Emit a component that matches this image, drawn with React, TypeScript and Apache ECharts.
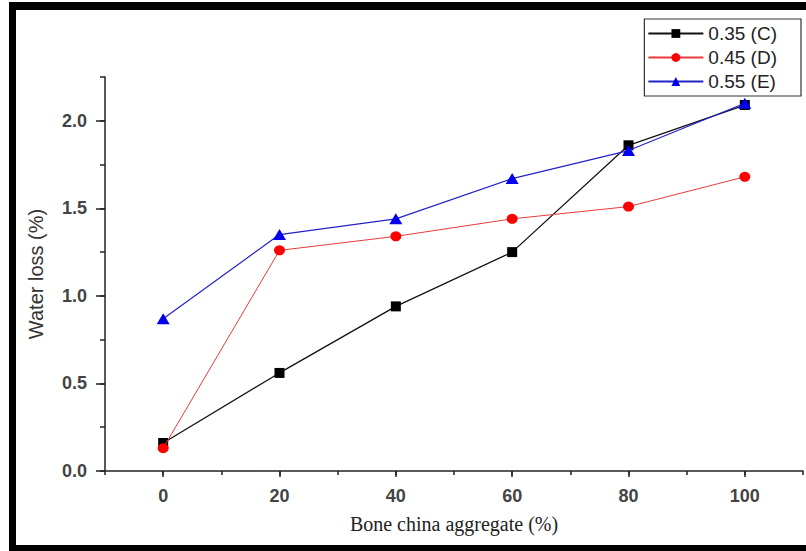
import React, { useEffect, useRef } from "react";
import * as echarts from "echarts";

// Bone china aggregate replacement level (%)
const aggregate = [0, 20, 40, 60, 80, 100];
// Water loss (%) for each w/c ratio
const lossC = [0.16, 0.56, 0.94, 1.25, 1.86, 2.09];
const lossD = [0.13, 1.26, 1.34, 1.44, 1.51, 1.68];
const lossE = [0.87, 1.35, 1.44, 1.67, 1.83, 2.1];
const seriesNames = ["0.35 (C)", "0.45 (D)", "0.55 (E)"];
const xMajorTicks = [0, 20, 40, 60, 80, 100];
const yMajorTicks = [0, 0.5, 1.0, 1.5, 2.0];

const pairs = (ys: number[]) => aggregate.map((x, i) => [x, ys[i]]);

export default function App() {
  const ref = useRef<HTMLDivElement>(null);

  useEffect(() => {
    if (!ref.current) return;
    const chart = echarts.init(ref.current, null, { renderer: "svg" });

    const axisLineStyle = { color: "#222", width: 1.5 };
    const sans = "'Liberation Sans', Arial, sans-serif";

    chart.setOption({
      animation: false,
      backgroundColor: "#fff",
      graphic: [
        { type: "rect", shape: { x: 9, y: 2, width: 797, height: 8 }, style: { fill: "#000" } },
        { type: "rect", shape: { x: 9, y: 2, width: 7, height: 549 }, style: { fill: "#000" } },
        { type: "rect", shape: { x: 9, y: 545, width: 797, height: 6 }, style: { fill: "#000" } },
      ],
      grid: { left: 105, right: 3, top: 77, bottom: 80, containLabel: false },
      legend: {
        orient: "vertical",
        right: 5,
        top: 19,
        data: seriesNames,
        itemWidth: 55,
        itemHeight: 11,
        itemGap: 5,
        padding: [5, 24, 5, 3],
        borderColor: "#333",
        borderWidth: 1.2,
        backgroundColor: "#fff",
        textStyle: { fontFamily: sans, fontSize: 19, color: "#222" },
      },
      xAxis: [
        {
          type: "value",
          position: "bottom",
          min: -10,
          max: 110,
          interval: 10,
          name: "Bone china aggregate (%)",
          nameLocation: "middle",
          nameGap: 43,
          nameTextStyle: { fontFamily: "'Liberation Serif', 'Times New Roman', serif", fontSize: 20, color: "#222" },
          axisLine: { onZero: false, lineStyle: axisLineStyle },
          axisTick: { show: true, length: 6, customValues: xMajorTicks, lineStyle: axisLineStyle },
          axisLabel: {
            customValues: xMajorTicks,
            margin: 16,
            fontFamily: sans,
            fontSize: 18,
            fontWeight: "bold",
            color: "#444",
          },
          splitLine: { show: false },
        },
        {
          type: "value",
          position: "bottom",
          min: -10,
          max: 110,
          interval: 10,
          axisLine: { show: false, onZero: false },
          axisTick: { show: true, length: 4, lineStyle: axisLineStyle },
          axisLabel: { show: false },
          splitLine: { show: false },
        },
      ],
      yAxis: [
        {
          type: "value",
          position: "left",
          min: 0,
          max: 2.25,
          interval: 0.25,
          name: "Water loss (%)",
          nameLocation: "middle",
          nameGap: 59,
          nameTextStyle: { fontFamily: sans, fontSize: 20, color: "#333" },
          axisLine: { show: true, onZero: false, lineStyle: axisLineStyle },
          axisTick: { show: true, length: 9, customValues: yMajorTicks, lineStyle: axisLineStyle },
          axisLabel: {
            customValues: yMajorTicks,
            margin: 18,
            fontFamily: sans,
            fontSize: 18,
            fontWeight: "bold",
            color: "#444",
            formatter: (v: number) => v.toFixed(1),
          },
          splitLine: { show: false },
        },
        {
          type: "value",
          position: "left",
          min: 0,
          max: 2.25,
          interval: 0.25,
          axisLine: { show: false, onZero: false },
          axisTick: { show: true, length: 5, lineStyle: axisLineStyle },
          axisLabel: { show: false },
          splitLine: { show: false },
        },
      ],
      series: [
        {
          name: seriesNames[0],
          type: "line",
          data: pairs(lossC),
          symbol: "rect",
          symbolSize: 10,
          itemStyle: { color: "#000" },
          lineStyle: { color: "#111", width: 1.3 },
          z: 3,
        },
        {
          name: seriesNames[1],
          type: "line",
          data: pairs(lossD),
          symbol: "circle",
          symbolSize: [11, 10],
          itemStyle: { color: "#ff0000" },
          lineStyle: { color: "#e83a3a", width: 1 },
          z: 4,
        },
        {
          name: seriesNames[2],
          type: "line",
          data: pairs(lossE),
          symbol: "triangle",
          symbolSize: [13, 11],
          itemStyle: { color: "#0000ee" },
          lineStyle: { color: "#2323c8", width: 1.2 },
          z: 5,
        },
      ],
    });

    return () => chart.dispose();
  }, []);

  return (
    <div
      ref={ref}
      style={{ position: "absolute", left: 0, top: 0, width: 806, height: 551 }}
    />
  );
}
